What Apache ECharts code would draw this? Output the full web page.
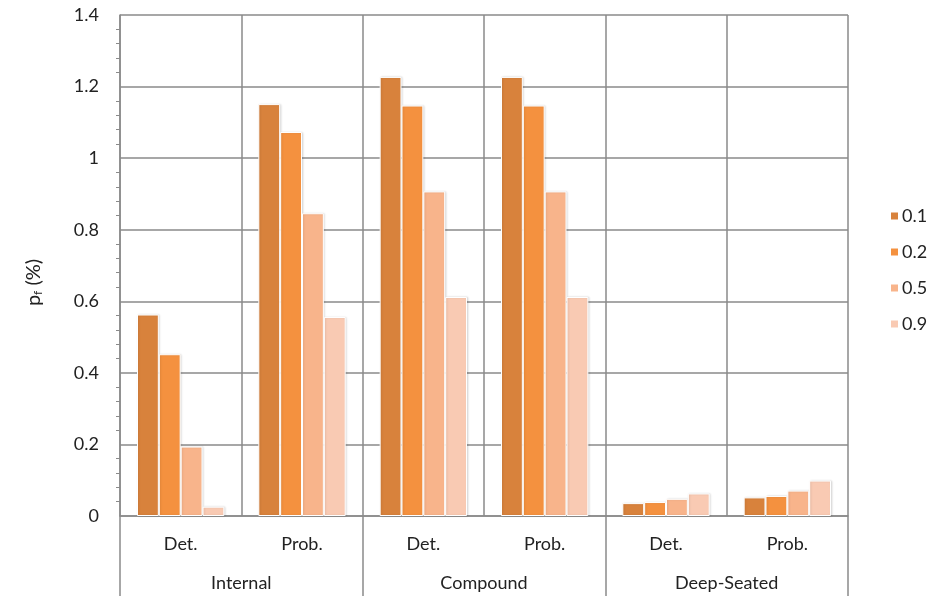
<!DOCTYPE html>
<html>
<head>
<meta charset="utf-8">
<script src="https://cdn.jsdelivr.net/npm/echarts@6/dist/echarts.min.js"></script>
<style>
html,body{margin:0;padding:0;background:#fff;}
#c{width:933px;height:598px;}
</style>
</head>
<body>
<div id="c"></div>
<script>
// Categories
const subCategories = ['Det.', 'Prob.', 'Det.', 'Prob.', 'Det.', 'Prob.'];
const groupCategories = ['Internal', 'Compound', 'Deep-Seated'];
const seriesNames = ['0.1', '0.2', '0.5', '0.9'];
// Series values (pf in %), order: Internal Det, Internal Prob, Compound Det, Compound Prob, Deep Det, Deep Prob
const s01 = [0.563, 1.151, 1.227, 1.227, 0.036, 0.052];
const s02 = [0.452, 1.073, 1.147, 1.147, 0.039, 0.056];
const s05 = [0.194, 0.846, 0.907, 0.907, 0.048, 0.071];
const s09 = [0.026, 0.556, 0.612, 0.612, 0.063, 0.099];
const yTicks = [0, 0.2, 0.4, 0.6, 0.8, 1, 1.2, 1.4];

const colors = ['#D8823C', '#F4913F', '#F8B48B', '#F9CAB3'];
const gridColor = '#8a8a8a';
const font = 'Lato';
const txt = '#222222';
const values = [s01, s02, s05, s09];

const chart = echarts.init(document.getElementById('c'), null, {renderer: 'canvas'});
chart.setOption({
  animation: false,
  backgroundColor: '#ffffff',
  textStyle: {fontFamily: font},
  grid: {left: 120, right: 85, top: 15, bottom: 82, containLabel: false},
  legend: {
    orient: 'vertical',
    left: 884,
    top: 202,
    icon: 'rect',
    itemWidth: 9,
    itemHeight: 9,
    itemGap: 18,
    textStyle: {fontSize: 18, color: txt, fontFamily: font, lineHeight: 18, padding: [0, 0, 0, -2]},
    data: seriesNames
  },
  xAxis: [
    {
      type: 'category',
      data: subCategories,
      position: 'bottom',
      axisLine: {show: true, lineStyle: {color: gridColor, width: 1.5}},
      axisTick: {show: false},
      axisLabel: {margin: 19, fontSize: 18, color: txt, fontFamily: font, interval: 0},
      splitLine: {show: true, interval: 0, lineStyle: {color: gridColor, width: 1.5}}
    },
    {
      type: 'category',
      data: groupCategories,
      position: 'bottom',
      axisLine: {show: false},
      axisTick: {show: true, length: 80, interval: 0, lineStyle: {color: gridColor, width: 1.5}},
      axisLabel: {margin: 58, fontSize: 18, color: txt, fontFamily: font, interval: 0},
      splitLine: {show: false}
    }
  ],
  yAxis: {
    type: 'value',
    min: 0,
    max: 1.4,
    interval: 0.2,
    axisLine: {show: true, lineStyle: {color: gridColor, width: 1.5}},
    axisTick: {show: false},
    minorTick: {show: true, splitNumber: 5, length: 4, lineStyle: {color: gridColor, width: 1}},
    axisLabel: {
      margin: 21, fontSize: 18, color: txt, fontFamily: font,
      formatter: function (v) {
        const t = yTicks.find(x => Math.abs(x - v) < 1e-9);
        return t === undefined ? '' : String(t);
      }
    },
    splitLine: {show: true, lineStyle: {color: gridColor, width: 1.5}},
    name: '{p|p}{s|f}{p| (%)}',
    nameLocation: 'middle',
    nameRotate: 90,
    nameGap: 76,
    nameTextStyle: {
      padding: [0, 34, 0, 0],
      rich: {
        p: {fontSize: 20, color: txt, fontFamily: font, lineHeight: 24, verticalAlign: 'bottom'},
        s: {fontSize: 12, color: txt, fontFamily: font, lineHeight: 24, verticalAlign: 'bottom', padding: [8, 0, 0, 0]}
      }
    }
  },
  series: seriesNames.map((n, i) => ({
    name: n,
    type: 'bar',
    data: values[i],
    xAxisIndex: 0,
    barGap: '0%',
    barCategoryGap: '28%',
    itemStyle: {color: colors[i], borderColor: '#ffffff', borderWidth: 1, shadowColor: 'rgba(0,0,0,0.12)', shadowBlur: 2, shadowOffsetX: 1, shadowOffsetY: 0}
  }))
});
</script>
</body>
</html>
